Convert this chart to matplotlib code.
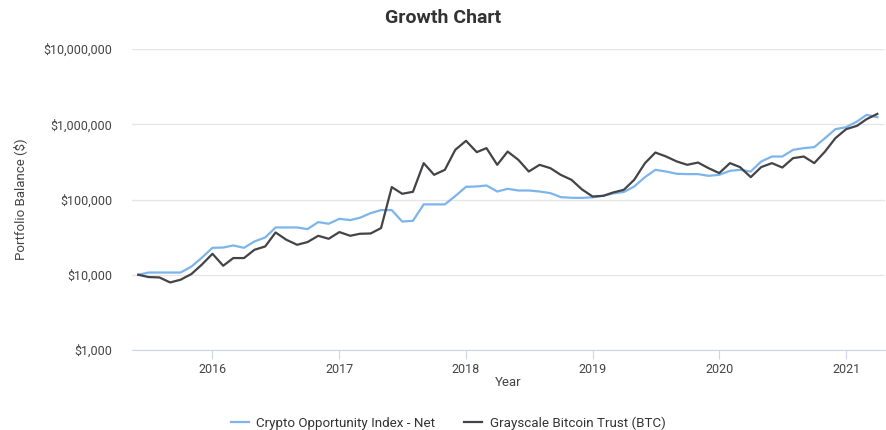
import numpy as np
import pandas as pd
import matplotlib
matplotlib.use("Agg")
import matplotlib.pyplot as plt
import matplotlib.dates as mdates
from matplotlib.ticker import FuncFormatter, FixedLocator

plt.rcParams['font.family'] = ['Roboto', 'DejaVu Sans']

# monthly values, Jun 2015 .. Apr 2021
months = pd.date_range("2015-06-01", periods=71, freq="MS")

crypto_index = [
    10000, 10700, 10700, 10700, 10700, 12800, 16800, 22800, 23000, 24500,
    22800, 27700, 31300, 42500, 42500, 42500, 40400, 50100, 47600, 55400,
    53200, 57100, 65900, 72300, 72300, 50900, 52100, 86100, 86100, 86100,
    111000, 147500, 148900, 153600, 127700, 138700, 131700, 131700, 127700, 121600,
    107600, 105400, 105000, 106900, 112000, 120200, 125900, 148900, 198200, 247900,
    235400, 219500, 217500, 217500, 206300, 212800, 240400, 247900, 235400, 319800,
    372500, 372500, 457000, 481600, 496600, 653600, 860300, 915100, 1085500, 1333000,
    1242000,
]

gbtc = [
    10000, 9320, 9210, 7900, 8590, 10200, 13580, 19000, 13170, 16670,
    16670, 21480, 23770, 36470, 29170, 25010, 27180, 32950, 30060, 36900,
    32950, 35030, 35350, 41700, 146200, 119100, 126500, 304300, 212800, 247900,
    457000, 602300, 425800, 481600, 289000, 433500, 336400, 235400, 289000, 261200,
    212800, 182800, 136500, 109600, 112000, 123900, 134500, 182800, 304300, 420800,
    372500, 319800, 289000, 309900, 261200, 224300, 304300, 269400, 198200, 269400,
    304300, 266100, 354600, 372500, 304300, 433500, 653600, 860300, 952000, 1169000,
    1374000,
]

series_names = ["Crypto Opportunity Index - Net", "Grayscale Bitcoin Trust (BTC)"]
y_ticks = [1000, 10000, 100000, 1000000, 10000000]

fig = plt.figure(figsize=(8.87, 4.30), dpi=100)
ax = fig.add_axes([132 / 887, 80 / 430, 753 / 887, 301 / 430])

ax.plot(months, crypto_index, color="#7cb5ec", lw=1.6, label=series_names[0])
ax.plot(months, gbtc, color="#434348", lw=1.6, label=series_names[1])

ax.set_yscale("log")
ax.set_ylim(1000, 10000000)
ax.yaxis.set_major_locator(FixedLocator(y_ticks))
ax.yaxis.set_minor_locator(FixedLocator([]))
ax.yaxis.set_major_formatter(FuncFormatter(lambda v, p: f"${v:,.0f}"))
ax.grid(axis="y", color="#e6e6e6", lw=1)
ax.set_axisbelow(True)

ax.set_xlim(pd.Timestamp("2015-05-14"), pd.Timestamp("2021-04-23"))
ax.xaxis.set_major_locator(mdates.YearLocator())
ax.xaxis.set_major_formatter(mdates.DateFormatter("%Y"))

for s in ["top", "right", "left"]:
    ax.spines[s].set_visible(False)
ax.spines["bottom"].set_color("#ccd6eb")
ax.tick_params(axis="x", length=6.5, color="#ccd6eb", labelsize=9, labelcolor="#444444", pad=3)
ax.tick_params(axis="y", length=0, labelsize=9, labelcolor="#444444", pad=14)

ax.set_xlabel("Year", fontsize=9.5, color="#444444", labelpad=0)
ax.set_ylabel("Portfolio Balance ($)", fontsize=9.5, color="#444444", labelpad=12)

fig.suptitle("Growth Chart", x=0.5, y=0.978, fontsize=14, fontweight="bold", color="#333333")

fig.legend(loc="lower center", bbox_to_anchor=(0.505, -0.027), ncol=2, frameon=False,
           fontsize=9.6, handlelength=1.35, columnspacing=2.2, handletextpad=0.55,
           labelcolor="#333333")

fig.savefig("out.png", dpi=100)
